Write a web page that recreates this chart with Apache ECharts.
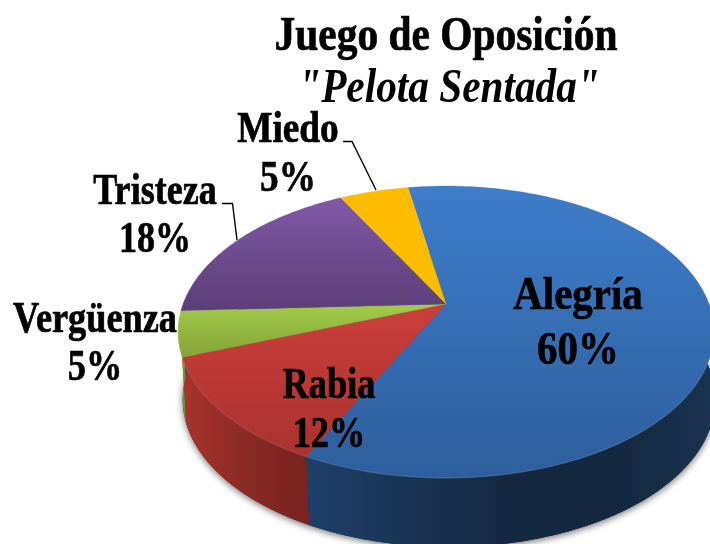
<!DOCTYPE html>
<html><head><meta charset="utf-8">
<style>html,body{margin:0;padding:0;background:#fff}#c{width:710px;height:544px}</style>
<script src="https://cdn.jsdelivr.net/npm/echarts@6/dist/echarts.min.js"></script>
</head><body><div id="c"></div>
<script>
const categories = ['Alegría', 'Rabia', 'Vergüenza', 'Tristeza', 'Miedo'];
const values = [60, 12, 5, 18, 5];
const topColors = [['#3d7dca', '#2e5e9d'], ['#cb3f3b', '#aa322e'], ['#a3cb4a', '#83a437'], ['#8159a8', '#5b3e78'], ['#fdbc00', '#fdbc00']];
const sideColors = [
  ['#1f3f6b', '#193352', '#14283f', '#14283f', '#1a3350'],
  ['#a8332c', '#8a2a25', '#782320'],
  ['#86a836', '#6f8b2c'],
  ['#5b3e78', '#5b3e78'],
  ['#c49000', '#c49000']
];
const titleLines = ['Juego de Oposición', '"Pelota Sentada"'];
const labelAnchors = [[578, 324], [329, 411], [95, 345], [155, 217], [288, 155]];
const labelFontSizes = [47, 44, 44, 44, 44];
const labelScaleX = [0.87, 0.826, 0.825, 0.82, 0.848];
const labelLineHeights = [55, 49, 48, 48, 49];
const leaders = { 3: [[222, 203.5], [232.5, 203.5], [237, 240]], 4: [[343, 141.5], [352, 141.5], [376, 190]] };
const startAngle = -9.9;   // clockwise from the far point of the disc
const topPlane = { cx: 446, cy: 304, a: 82.3, c: -0.1918, d: 263 };
const basePlane = { cx: 449, cy: 370, a: 68.3, c: -0.1988, d: 261 };
const total = values.reduce((s, v) => s + v, 0);
const spans = []; let acc = startAngle;
values.forEach(v => { const sweep = v / total * 360; spans.push([acc, acc + sweep]); acc += sweep; });

function project(plane, deg) {
  const t = deg * Math.PI / 180, X = Math.sin(t), Y = -Math.cos(t), w = plane.c * Y + 1;
  return [plane.cx + plane.d * X / w, (plane.a * Y + plane.cy) / w];
}
function arc(plane, from, to) {
  const pts = [], n = Math.max(2, Math.ceil(Math.abs(to - from)));
  for (let i = 0; i <= n; i++) pts.push(project(plane, from + (to - from) * i / n));
  return pts;
}
function grad(x, y, stops) {
  return new echarts.graphic.LinearGradient(0, 0, x, y, stops.map((c, i) => ({ offset: i / (stops.length - 1), color: c })));
}
const VISIBLE = [86, 272];
function renderSide(params) {
  const i = params.dataIndex, children = [];
  if (i === 0) {
    children.push({ type: 'polygon', shape: { points: arc(basePlane, 0, 360) }, silent: true,
      style: { fill: '#14283f', shadowBlur: 7, shadowColor: 'rgba(0,0,0,0.55)', shadowOffsetX: 0, shadowOffsetY: 2 } });
  }
  const a = Math.max(spans[i][0], VISIBLE[0]), b = Math.min(spans[i][1], VISIBLE[1]);
  if (b > a) {
    const pts = arc(topPlane, a, b).concat(arc(basePlane, a, b).reverse());
    children.push({ type: 'polygon', shape: { points: pts }, silent: true, style: { fill: grad(1, 0, sideColors[i]) } });
  }
  return { type: 'group', children };
}
function renderTop(params) {
  const i = params.dataIndex;
  const pts = [[topPlane.cx, topPlane.cy]].concat(arc(topPlane, spans[i][0], spans[i][1]));
  const children = [{ type: 'polygon', shape: { points: pts }, silent: true,
    style: { fill: grad(0, 1, topColors[i]), stroke: topColors[i][0], lineWidth: 0.3 } }];
  const a = Math.max(spans[i][0], VISIBLE[0]), b = Math.min(spans[i][1], VISIBLE[1]);
  if (b > a) children.push({ type: 'polyline', shape: { points: arc(topPlane, a, b) }, silent: true,
    style: { fill: null, stroke: 'rgba(255,255,255,0.09)', lineWidth: 1.5 } });
  return { type: 'group', children };
}
function renderLabel(params) {
  const i = params.dataIndex, children = [];
  if (leaders[i]) children.push({ type: 'polyline', shape: { points: leaders[i] }, silent: true,
    style: { fill: null, stroke: '#000', lineWidth: 1.4 } });
  children.push({ type: 'text', x: labelAnchors[i][0], y: labelAnchors[i][1], scaleX: labelScaleX[i], silent: true,
    style: { text: categories[i] + '\n' + values[i] + '%', fill: '#000', stroke: '#000', lineWidth: 0.7, align: 'center', verticalAlign: 'middle',
      font: 'bold ' + labelFontSizes[i] + 'px "Liberation Serif"', lineHeight: labelLineHeights[i] } });
  return { type: 'group', children };
}
const seriesData = categories.map((name, i) => ({ name, value: values[i] }));
const chart = echarts.init(document.getElementById('c'), null, { renderer: 'canvas' });
chart.setOption({
  animation: false,
  backgroundColor: '#fff',
  graphic: [
    { type: 'text', x: 446, y: 38, scaleX: 0.863, silent: true, z: 10,
      style: { text: titleLines[0], fill: '#000', stroke: '#000', lineWidth: 0.7, align: 'center', verticalAlign: 'middle', font: 'bold 48px "Liberation Serif"' } },
    { type: 'text', x: 449, y: 90, scaleX: 0.86, silent: true, z: 10,
      style: { text: titleLines[1], fill: '#000', align: 'center', verticalAlign: 'middle', font: 'italic bold 48px "Liberation Serif"' } }
  ],
  series: [
    { type: 'custom', name: 'side', coordinateSystem: 'none', data: seriesData, renderItem: renderSide, z: 1 },
    { type: 'custom', name: 'top', coordinateSystem: 'none', data: seriesData, renderItem: renderTop, z: 2 },
    { type: 'custom', name: 'labels', coordinateSystem: 'none', data: seriesData, renderItem: renderLabel, z: 3 }
  ]
});
</script></body></html>
